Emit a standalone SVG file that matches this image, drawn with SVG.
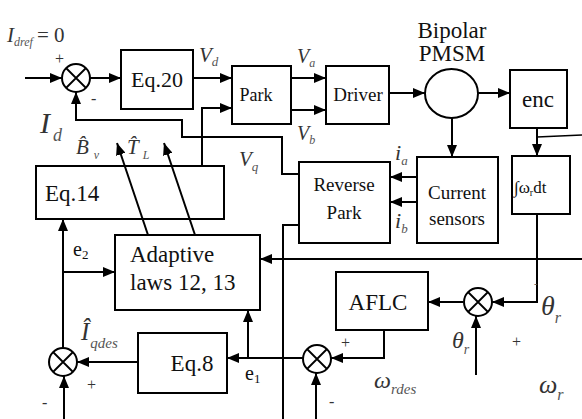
<svg xmlns="http://www.w3.org/2000/svg" width="582" height="419" viewBox="0 0 582 419">
<style>
text{font-family:"Liberation Serif","Times New Roman",serif;fill:#111}
.box{fill:#fff;stroke:#000;stroke-width:2}
.sum{fill:#fff;stroke:#000;stroke-width:2}
.x{stroke:#000;stroke-width:1.8}
.ln{fill:none;stroke:#000;stroke-width:2}
.lbl{font-size:19px;text-anchor:middle}
.big{font-size:23px;text-anchor:middle}
.it{font-style:italic;fill:#333}
.sub{font-style:italic;fill:#555}
.sg{font-size:16px;fill:#333}
</style>
<defs>
<marker id="ah" viewBox="0 0 12 10" refX="12" refY="5" markerWidth="12" markerHeight="10" markerUnits="userSpaceOnUse" orient="auto"><path d="M0,0 L12,5 L0,10 z" fill="#000"/></marker>
</defs>
<rect width="582" height="419" fill="#fff"/>

<g id="connectors">
<path class="ln" d="M25,78 H62" marker-end="url(#ah)"/>
<path class="ln" d="M90,78 H121" marker-end="url(#ah)"/>
<path class="ln" d="M193,78 H232" marker-end="url(#ah)"/>
<path class="ln" d="M202,166 V108 H232" marker-end="url(#ah)"/>
<path class="ln" d="M299,174 H282 V137 H182 V120 H76 V92" marker-end="url(#ah)"/>
<path class="ln" d="M291,78 H326" marker-end="url(#ah)"/>
<path class="ln" d="M291,110 H326" marker-end="url(#ah)"/>
<path class="ln" d="M389,93 H425" marker-end="url(#ah)"/>
<path class="ln" d="M478,93 H510" marker-end="url(#ah)"/>
<path class="ln" d="M452,118 V157" marker-end="url(#ah)"/>
<path class="ln" d="M417,177 H390" marker-end="url(#ah)"/>
<path class="ln" d="M417,202 H390" marker-end="url(#ah)"/>
<path class="ln" d="M537,128 V156" marker-end="url(#ah)"/>
<path class="ln" d="M537,137 L582,135" style="stroke-width:1.5"/>
<path class="ln" d="M537,214 V302 H492" marker-end="url(#ah)"/>
<path class="ln" d="M582,259 H260" marker-end="url(#ah)"/>
<path class="ln" d="M463,302 H428" marker-end="url(#ah)"/>
<path class="ln" d="M476,375 V316" marker-end="url(#ah)"/>
<path class="ln" d="M384,330 V358 H331" marker-end="url(#ah)"/>
<path class="ln" d="M316,419 V373" marker-end="url(#ah)"/>
<path class="ln" d="M303,358 H227" marker-end="url(#ah)"/>
<path class="ln" d="M248,358 V310" marker-end="url(#ah)"/>
<path class="ln" d="M138,362 H77" marker-end="url(#ah)"/>
<path class="ln" d="M64,419 V376" marker-end="url(#ah)"/>
<path class="ln" d="M63,348 V219" marker-end="url(#ah)"/>
<path class="ln" d="M63,272 H115" marker-end="url(#ah)"/>
<path class="ln" d="M299,225 H283 V419"/>
</g>

<g id="eq14"><rect class="box" x="36" y="166" width="188" height="53"/><text x="45" y="201" style="font-size:23px">Eq.14</text></g>
<g id="adaptive-arrows">
<path class="ln" d="M148,235 L117,143" marker-end="url(#ah)"/>
<path class="ln" d="M195,235 L164,143" marker-end="url(#ah)"/>
</g>

<g id="sum1"><circle class="sum" cx="76" cy="78" r="14"/><path class="x" d="M66,68 L86,88 M86,68 L66,88"/></g>
<g id="eq20"><rect class="box" x="121" y="50" width="72" height="59"/><text class="lbl" x="157" y="87" style="font-size:22px">Eq.20</text></g>
<g id="park"><rect class="box" x="232" y="66" width="59" height="58"/><text class="lbl" x="256" y="101" style="font-size:18px">Park</text></g>
<g id="driver"><rect class="box" x="326" y="66" width="63" height="58"/><text class="lbl" x="358" y="101">Driver</text></g>
<g id="pmsm"><ellipse class="sum" cx="451.5" cy="93.5" rx="26.5" ry="24.5"/><text class="big" x="452" y="38">Bipolar</text><text class="big" x="452" y="61">PMSM</text></g>
<g id="enc"><rect class="box" x="510" y="70" width="57" height="58"/><text class="big" x="538" y="107">enc</text></g>
<g id="integ"><rect class="box" x="512" y="156" width="58" height="58"/><text x="514" y="193" style="font-size:17px">∫ω<tspan style="font-size:10px" dy="3">r</tspan><tspan dy="-3">dt</tspan></text></g>
<g id="current"><rect class="box" x="417" y="157" width="81" height="86"/><text class="lbl" x="457" y="199">Current</text><text class="lbl" x="457" y="225">sensors</text></g>
<g id="revpark"><rect class="box" x="299" y="162" width="91" height="81"/><text class="lbl" x="344" y="191">Reverse</text><text class="lbl" x="344" y="219">Park</text></g>
<g id="adaptive"><rect class="box" x="115" y="235" width="145" height="75"/><text x="130" y="262" style="font-size:23px">Adaptive</text><text x="130" y="290" style="font-size:23px">laws 12, 13</text></g>
<g id="eq8"><rect class="box" x="138" y="333" width="89" height="60"/><text class="big" x="192" y="371">Eq.8</text></g>
<g id="aflc"><rect class="box" x="336" y="272" width="92" height="58"/><text class="big" x="378" y="310">AFLC</text></g>
<g id="sum2"><circle class="sum" cx="63" cy="362" r="14"/><path class="x" d="M53,352 L73,372 M73,352 L53,372"/></g>
<g id="sum3"><circle class="sum" cx="317" cy="359" r="14"/><path class="x" d="M307,349 L327,369 M327,349 L307,369"/></g>
<g id="sum4"><circle class="sum" cx="478" cy="302" r="14"/><path class="x" d="M468,292 L488,312 M488,292 L468,312"/></g>

<g id="labels">
<text class="it" x="7" y="42" style="font-size:21px">I<tspan class="sub" style="font-size:12px" dy="4">dref</tspan><tspan style="font-style:normal" dx="4" dy="-4">= 0</tspan></text>
<text class="sg" x="55" y="64">+</text>
<text class="sg" x="91" y="104">-</text>
<text class="it" x="199" y="62" style="font-size:21px">V<tspan class="sub" style="font-size:13px" dy="4">d</tspan></text>
<text class="it" x="40" y="133" style="font-size:30px">I<tspan class="sub" style="font-size:18px" dx="3" dy="8">d</tspan></text>
<text class="it" x="76" y="154" style="font-size:21px">B̂<tspan class="sub" style="font-size:12px" dx="5" dy="5">v</tspan></text>
<text class="it" x="127" y="154" style="font-size:21px">T̂<tspan class="sub" style="font-size:12px" dx="4" dy="5">L</tspan></text>
<text class="it" x="239" y="166" style="font-size:21px">V<tspan class="sub" style="font-size:13px" dy="5">q</tspan></text>
<text class="it" x="297" y="63" style="font-size:20px">V<tspan class="sub" style="font-size:12px" dy="4">a</tspan></text>
<text class="it" x="297" y="140" style="font-size:20px">V<tspan class="sub" style="font-size:12px" dy="4">b</tspan></text>
<text class="it" x="395" y="160" style="font-size:22px">i<tspan class="sub" style="font-size:13px" dy="5">a</tspan></text>
<text class="it" x="395" y="228" style="font-size:22px">i<tspan class="sub" style="font-size:13px" dy="5">b</tspan></text>
<text x="73" y="256" style="font-size:20px">e<tspan style="font-size:13px" dy="3">2</tspan></text>
<text class="it" x="81" y="340" style="font-size:25px">Î<tspan class="sub" style="font-size:15px" dx="1" dy="8">qdes</tspan></text>
<text class="sg" x="87" y="390">+</text>
<text class="sg" x="42" y="408">-</text>
<text x="245" y="380" style="font-size:20px">e<tspan style="font-size:13px" dy="3">1</tspan></text>
<text class="sg" x="341" y="348">+</text>
<text class="sg" x="329" y="407">-</text>
<text class="it" x="374" y="388" style="font-size:24px">ω<tspan class="sub" style="font-size:15px" dy="6">rdes</tspan></text>
<text class="it" x="452" y="348" style="font-size:24px">θ<tspan class="sub" style="font-size:14px" dy="6">r</tspan></text>
<text class="sg" x="512" y="347">+</text>
<text class="it" x="541" y="315" style="font-size:28px">θ<tspan class="sub" style="font-size:16px" dy="8">r</tspan></text>
<text class="it" x="539" y="393" style="font-size:26px">ω<tspan class="sub" style="font-size:16px" dy="7">r</tspan></text>
<text x="534" y="287" style="font-size:10px;fill:#555">-</text>
</g>
</svg>
